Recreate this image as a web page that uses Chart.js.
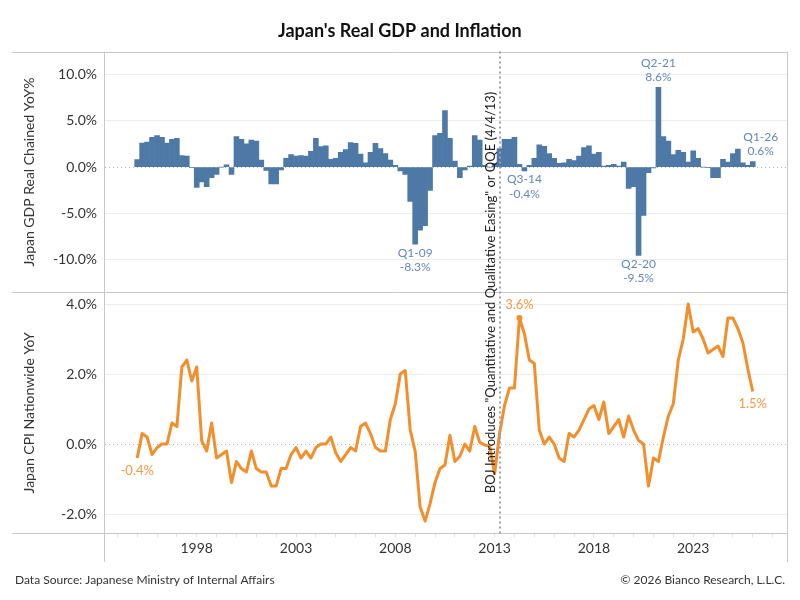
<!DOCTYPE html>
<html>
<head>
<meta charset="utf-8">
<script src="https://cdn.jsdelivr.net/npm/chart.js@4.4.1/dist/chart.umd.min.js"></script>
<style>
  html, body { margin: 0; padding: 0; background: #fff; }
  #wrap { width: 800px; height: 600px; }
</style>
</head>
<body>
<div id="wrap"><canvas id="gdpCpiChart" width="800" height="600"></canvas></div>
<script>
// —————— DATA ——————
// quarterly, Q1 1995 .. Q1 2026
const firstYear = 1995;

const gdpYoY = [
  0.8, 2.6, 2.7, 3.2, 3.4, 3.2, 2.6, 3.0, 3.1, 1.25, 1.2, -0.05,
  -2.2, -1.6, -2.1, -1.15, -0.8, 0.0, 0.25, -0.8, 3.3, 3.0, 2.5, 2.9,
  2.8, 0.75, -0.35, -1.8, -1.8, -0.3, 0.95, 1.35, 1.2, 1.25, 1.2, 1.7,
  3.1, 2.2, 2.3, 0.85, 0.95, 1.6, 1.9, 2.65, 2.55, 1.4, 0.45, 1.6,
  2.55, 2.0, 1.45, 0.75, 0.2, -0.4, -0.8, -3.7, -8.3, -6.8, -6.3, -2.5,
  3.4, 3.65, 6.1, 3.1, 0.65, -1.15, -0.3, 0.1, 3.4, 2.9, 0.2, 0.0,
  0.4, 2.0, 3.0, 3.0, 3.2, 0.3, -0.4, 0.2, 0.95, 2.4, 2.25, 1.45,
  0.95, 0.4, 0.45, 0.85, 0.7, 1.2, 2.1, 2.3, 1.4, 1.6, 0.1, 0.2,
  0.3, 0.1, 0.55, -2.3, -2.1, -9.5, -5.2, -0.6, -0.1, 8.6, 3.3, 2.8,
  1.35, 1.8, 1.6, 0.55, 1.75, 0.95, 0.0, -0.05, -1.15, -1.15, 0.85, 0.55,
  1.45, 1.95, 0.45, 0.2, 0.6
];

const cpiYoY = [
  -0.4, 0.3, 0.2, -0.3, -0.1, 0.0, 0.0, 0.6, 0.5, 2.2, 2.4, 1.8,
  2.2, 0.1, -0.2, 0.6, -0.4, -0.3, -0.2, -1.1, -0.5, -0.7, -0.8, -0.2,
  -0.7, -0.8, -0.8, -1.2, -1.2, -0.7, -0.7, -0.3, -0.1, -0.4, -0.2, -0.4,
  -0.1, 0.0, 0.0, 0.2, -0.25, -0.5, -0.3, -0.1, -0.2, 0.5, 0.6, 0.3,
  -0.1, -0.2, -0.2, 0.7, 1.15, 2.0, 2.1, 0.4, -0.2, -1.8, -2.2, -1.7,
  -1.1, -0.7, -0.6, 0.25, -0.5, -0.35, 0.0, -0.2, 0.5, 0.05, -0.03, -0.06,
  -0.85, 0.3, 1.1, 1.6, 1.6, 3.6, 3.15, 2.4, 2.3, 0.4, 0.0, 0.2,
  0.0, -0.4, -0.5, 0.3, 0.2, 0.4, 0.7, 1.0, 1.1, 0.7, 1.2, 0.3,
  0.5, 0.7, 0.2, 0.8, 0.4, 0.1, 0.0, -1.2, -0.4, -0.5, 0.2, 0.8,
  1.15, 2.4, 3.0, 4.0, 3.2, 3.3, 3.0, 2.6, 2.7, 2.8, 2.5, 3.6,
  3.6, 3.3, 2.9, 2.15, 1.5
];

const yearLabels = [1998, 2003, 2008, 2013, 2018, 2023];
const gdpTicks = [-10, -5, 0, 5, 10];
const cpiTicks = [-2, 0, 2, 4];

// quarters that get a value label
const gdpNotes = [56, 78, 101, 105, 124];
const cpiNotes = [0, 77, 124];

const qqeDate = 2013 + 93 / 365; // 4/4/13
const qqeText = 'BOJ Introduces "Quantitative and Qualitative Easing" or QQE (4/4/13)';

const quarterPos = gdpYoY.map((_, i) => firstYear + i / 4);
const quarterName = i => 'Q' + (i % 4 + 1) + '-' + String(firstYear + Math.floor(i / 4)).slice(2);
const pct = v => v.toFixed(1) + '%';

// —————— STYLE ——————
const BLUE = '#4e79a7';
const ORANGE = '#f28e2b';
const FRAME = '#c8c8c8';
const TEXT = '#333';

Chart.defaults.font.family = 'Lato, "Noto Sans", sans-serif';
Chart.defaults.color = TEXT;

// frame lines, zero lines, QQE marker, value labels and footer
const decorations = {
  id: 'decorations',
  beforeDatasetsDraw(chart) {
    const { ctx, chartArea: a, scales } = chart;
    ctx.save();
    ctx.strokeStyle = '#b4b4b4';
    ctx.lineWidth = 1;
    ctx.setLineDash([1, 3]);
    [scales.yGdp, scales.yCpi].forEach(s => {
      const y = Math.round(s.getPixelForValue(0)) + 0.5;
      ctx.beginPath();
      ctx.moveTo(a.left, y);
      ctx.lineTo(a.right, y);
      ctx.stroke();
    });
    ctx.restore();
  },
  afterDatasetsDraw(chart) {
    const { ctx, chartArea: a, scales } = chart;
    const x = scales.x, yG = scales.yGdp, yC = scales.yCpi;
    ctx.save();

    // frame
    ctx.strokeStyle = FRAME;
    ctx.lineWidth = 1;
    const hLines = [a.top, yG.bottom, a.bottom];
    hLines.forEach(y => {
      y = Math.round(y) + 0.5;
      ctx.beginPath();
      ctx.moveTo(12, y);
      ctx.lineTo(a.right, y);
      ctx.stroke();
    });
    [a.left, a.right].forEach(xx => {
      xx = Math.round(xx) - 0.5;
      ctx.beginPath();
      ctx.moveTo(xx, a.top);
      ctx.lineTo(xx, 562);
      ctx.stroke();
    });

    // QQE line
    const qx = Math.round(x.getPixelForValue(qqeDate));
    ctx.strokeStyle = '#a0a0a0';
    ctx.lineWidth = 2;
    ctx.setLineDash([2, 3]);
    ctx.beginPath();
    ctx.moveTo(qx, a.top);
    ctx.lineTo(qx, a.bottom);
    ctx.stroke();
    ctx.setLineDash([]);

    ctx.save();
    ctx.translate(qx - 9, (a.top + a.bottom) / 2);
    ctx.rotate(-Math.PI / 2);
    ctx.font = '13px Lato';
    ctx.fillStyle = '#222';
    ctx.textAlign = 'center';
    ctx.textBaseline = 'middle';
    ctx.fillText(qqeText, 0, 0);
    ctx.restore();

    // value labels
    ctx.font = '12px Lato';
    ctx.textAlign = 'center';
    ctx.textBaseline = 'middle';
    ctx.fillStyle = '#6388bb';
    gdpNotes.forEach(i => {
      const v = gdpYoY[i];
      const px = x.getPixelForValue(quarterPos[i]) + (i === gdpYoY.length - 1 ? 8 : 0);
      const py = yG.getPixelForValue(v);
      if (v < 0) {
        ctx.fillText(quarterName(i), px, py + 8.5);
        ctx.fillText(pct(v), px, py + 23);
      } else {
        ctx.fillText(quarterName(i), px, py - 24);
        ctx.fillText(pct(v), px, py - 10.5);
      }
    });
    ctx.fillStyle = '#f39a45';
    ctx.font = '13px Lato';
    cpiNotes.forEach(i => {
      const v = cpiYoY[i];
      const px = x.getPixelForValue(quarterPos[i]);
      const py = yC.getPixelForValue(v);
      const up = i > 0 && i < cpiYoY.length - 1;
      ctx.fillText(pct(v), px, py + (up ? -13 : 12.5));
    });

    // footer
    ctx.font = '12px Lato';
    ctx.fillStyle = TEXT;
    ctx.textAlign = 'left';
    ctx.fillText('Data Source: Japanese Ministry of Internal Affairs', 15, 580);
    ctx.textAlign = 'right';
    ctx.fillText('\u00A9 2026 Bianco Research, L.L.C.', 785, 580);
    ctx.restore();
  }
};

const gridColor = ctx => (ctx.tick && ctx.tick.value === 0 ? 'rgba(0,0,0,0)' : '#ececec');

new Chart(document.getElementById('gdpCpiChart'), {
  data: {
    datasets: [
      {
        type: 'bar',
        label: 'Japan GDP Real Chained YoY%',
        data: gdpYoY.map((v, i) => ({ x: quarterPos[i], y: v })),
        yAxisID: 'yGdp',
        backgroundColor: BLUE,
        borderWidth: 0,
        barPercentage: 1,
        categoryPercentage: 1
      },
      {
        type: 'line',
        label: 'Japan CPI Nationwide YoY',
        data: cpiYoY.map((v, i) => ({ x: quarterPos[i], y: v })),
        yAxisID: 'yCpi',
        borderColor: ORANGE,
        backgroundColor: ORANGE,
        borderWidth: 3,
        tension: 0,
        borderJoinStyle: 'round',
        pointRadius: cpiYoY.map((_, i) => (i === 77 ? 3 : 0)),
        pointBorderWidth: 0
      }
    ]
  },
  options: {
    responsive: false,
    animation: false,
    devicePixelRatio: 1,
    layout: { padding: { left: 12, right: 12.3, top: 0, bottom: 30 } },
    plugins: {
      legend: { display: false },
      tooltip: { enabled: false },
      title: {
        display: true,
        text: "Japan's Real GDP and Inflation",
        color: '#111',
        font: { size: 18, weight: 'bold' },
        padding: { top: 20, bottom: 10 }
      }
    },
    scales: {
      x: {
        type: 'linear',
        offset: false,
        min: 1993.38,
        max: 2027.76,
        afterBuildTicks: s => {
          const t = [];
          for (let y = Math.ceil(s.min); y <= s.max; y++) t.push({ value: y });
          s.ticks = t;
        },
        afterFit: s => { s.height = 36.7; },
        ticks: {
          autoSkip: false,
          maxRotation: 0,
          padding: 3,
          font: { size: 14 },
          color: TEXT,
          callback: v => (yearLabels.includes(v) ? String(v) : '')
        },
        grid: { offset: false, drawOnChartArea: false, drawTicks: true, tickLength: 4, color: '#e2e2e2' },
        border: { display: false }
      },
      yCpi: {
        type: 'linear',
        position: 'left',
        stack: 'panels',
        stackWeight: 1,
        min: -2.55,
        max: 4.33,
        afterBuildTicks: s => { s.ticks = cpiTicks.map(v => ({ value: v })); },
        afterFit: s => { s.width = 93; },
        ticks: { padding: 8, font: { size: 14 }, color: TEXT, callback: v => pct(v) },
        grid: { drawTicks: false, color: gridColor },
        border: { display: false },
        title: {
          display: true,
          text: 'Japan CPI Nationwide YoY',
          font: { size: 14 },
          color: TEXT,
          padding: { top: 8.6, bottom: 0 }
        }
      },
      yGdp: {
        type: 'linear',
        position: 'left',
        stack: 'panels',
        stackWeight: 1,
        min: -13.5,
        max: 12.44,
        afterBuildTicks: s => { s.ticks = gdpTicks.map(v => ({ value: v })); },
        afterFit: s => { s.width = 93; },
        ticks: { padding: 8, font: { size: 14 }, color: TEXT, callback: v => pct(v) },
        grid: { drawTicks: false, color: gridColor },
        border: { display: false },
        title: {
          display: true,
          text: 'Japan GDP Real Chained YoY%',
          font: { size: 14 },
          color: TEXT,
          padding: { top: 8.6, bottom: 0 }
        }
      }
    }
  },
  plugins: [decorations]
});
</script>
</body>
</html>
